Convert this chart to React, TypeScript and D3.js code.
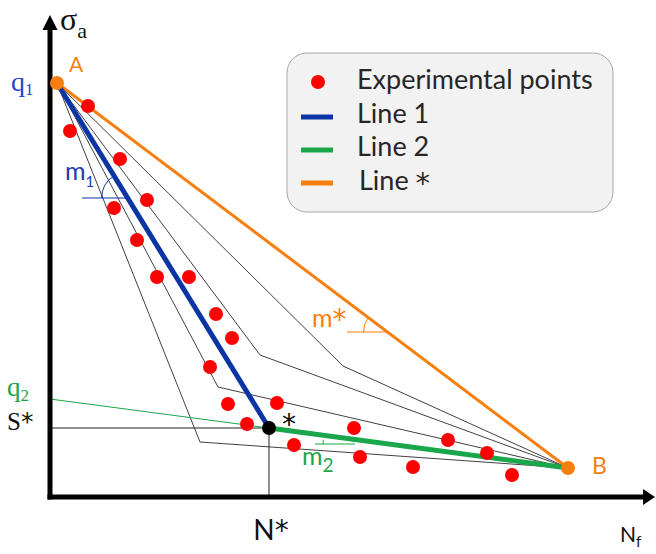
import React from "react";
import * as d3 from "d3";

// schematic S-N diagram (origin at the axes corner)
const expN = [38, 20, 70, 97, 64, 87, 107, 139, 166, 182, 160, 178, 227, 197, 244, 304, 310, 363, 398, 437, 462];
const expS = [391, 366, 338, 297, 289, 257, 220, 220, 183, 159, 130, 93, 94, 73, 52, 69, 40, 30, 57, 44, 22];

const pointA: [number, number] = [7, 414];
const pointB: [number, number] = [518, 29];
const pointStar: [number, number] = [219, 69];
const q2S = 98;

// knee points of the grey bilinear fits
const kneeN = [150, 168, 210, 293];
const kneeS = [55, 110, 142, 131];

// angle marker levels
const m1Level = { s: 299, from: 32 };
const mStarLevel = { s: 165, from: 297 };
const m2Level = { s: 53, from: 265, to: 305 };

const legendLabels = ["Experimental points", "Line 1", "Line 2", "Line "];

const BLUE = "#0b35a5";
const GREEN = "#1aa64b";
const ORANGE = "#f77f10";
const RED = "#ff0000";
const SANS = "Lato, 'Open Sans', sans-serif";
const SERIF = "'Liberation Serif', 'DejaVu Serif', serif";
const STAR_FONT = "'DejaVu Sans', sans-serif";

export default function App() {
  const width = 656;
  const height = 554;

  const x = d3.scaleLinear().domain([0, 600]).range([50, 650]);
  const y = d3.scaleLinear().domain([0, 480]).range([497, 17]);

  const line = d3
    .line<[number, number]>()
    .x((d) => x(d[0]))
    .y((d) => y(d[1]));

  // n on segment p->q at a given s
  const nAt = (p: [number, number], q: [number, number], s: number) =>
    p[0] + ((s - p[1]) * (q[0] - p[0])) / (q[1] - p[1]);

  // arc from the horizontal (left) up to the line toward target
  const angleArc = (cx: number, cy: number, r: number, tx: number, ty: number) => {
    let a = Math.atan2(ty - cy, tx - cx);
    if (a < Math.PI) a += 2 * Math.PI;
    const p = d3.path();
    p.arc(cx, cy, r, Math.PI, a, false);
    return p.toString();
  };

  const m1Center = nAt(pointA, pointStar, m1Level.s);
  const mStarCenter = nAt(pointA, pointB, mStarLevel.s);

  const yAxisY = y(0);
  const xEnd = x(600);

  return (
    <svg
      width={width}
      height={height}
      style={{ position: "absolute", left: 0, top: 0, background: "#fff" }}
    >
      {/* grey bilinear fits */}
      {kneeN.map((n, i) => (
        <path
          key={i}
          d={line([pointA, [n, kneeS[i]], pointB]) || ""}
          fill="none"
          stroke="#404040"
          strokeWidth={1}
        />
      ))}

      {/* N*, S* guides */}
      <path
        d={line([[0, pointStar[1]], pointStar, [pointStar[0], 0]]) || ""}
        fill="none"
        stroke="#222"
        strokeWidth={1}
      />
      <path d={line([[0, q2S], pointStar]) || ""} fill="none" stroke={GREEN} strokeWidth={1} />

      {/* fitted lines */}
      <path d={line([pointA, pointB]) || ""} fill="none" stroke={ORANGE} strokeWidth={3} />
      <path d={line([pointA, pointStar]) || ""} fill="none" stroke={BLUE} strokeWidth={5} />
      <path d={line([pointStar, pointB]) || ""} fill="none" stroke={GREEN} strokeWidth={5} />

      {/* angle markers */}
      <line x1={x(m1Level.from)} x2={x(m1Center)} y1={y(m1Level.s)} y2={y(m1Level.s)} stroke={BLUE} strokeWidth={1} />
      <path
        d={angleArc(x(m1Center), y(m1Level.s), 26, x(pointA[0]), y(pointA[1]))}
        fill="none"
        stroke={BLUE}
        strokeWidth={1}
      />
      <line x1={x(mStarLevel.from)} x2={x(mStarCenter)} y1={y(mStarLevel.s)} y2={y(mStarLevel.s)} stroke={ORANGE} strokeWidth={1} />
      <path
        d={angleArc(x(mStarCenter), y(mStarLevel.s), 24, x(pointA[0]), y(pointA[1]))}
        fill="none"
        stroke={ORANGE}
        strokeWidth={1}
      />
      <line x1={x(m2Level.from)} x2={x(m2Level.to)} y1={y(m2Level.s)} y2={y(m2Level.s)} stroke={GREEN} strokeWidth={1} />
      <path
        d={angleArc(
          x(m2Level.to),
          y(m2Level.s),
          32,
          x(m2Level.to) + x(pointStar[0]) - x(pointB[0]),
          y(m2Level.s) + y(pointStar[1]) - y(pointB[1])
        )}
        fill="none"
        stroke={GREEN}
        strokeWidth={1}
      />

      {/* experimental points */}
      {expN.map((n, i) => (
        <circle key={i} cx={x(n)} cy={y(expS[i])} r={7} fill={RED} />
      ))}

      {/* axes */}
      <line x1={x(0)} x2={x(0)} y1={yAxisY + 2.5} y2={y(467)} stroke="#000" strokeWidth={5} />
      <path d={`M${x(0)},${y(482)}L${x(0) - 7.5},${y(467)}L${x(0) + 7.5},${y(467)}Z`} fill="#000" />
      <line x1={x(0) - 2.5} x2={xEnd - 7} y1={yAxisY} y2={yAxisY} stroke="#000" strokeWidth={5} />
      <path d={`M${xEnd + 5},${yAxisY}L${xEnd - 7},${yAxisY - 8}L${xEnd - 7},${yAxisY + 8}Z`} fill="#000" />

      {/* key points */}
      <circle cx={x(pointA[0])} cy={y(pointA[1])} r={7} fill={ORANGE} />
      <circle cx={x(pointB[0])} cy={y(pointB[1])} r={7} fill={ORANGE} />
      <circle cx={x(pointStar[0])} cy={y(pointStar[1])} r={7} fill="#000" />

      {/* labels */}
      <text x={60} y={30} fontFamily={SERIF} fontSize={32} fill="#111">
        σ<tspan fontSize={22} dy={8}>a</tspan>
      </text>
      <text x={620} y={542} fontFamily={SANS} fontSize={21} fill="#111">
        N<tspan fontSize={15} dy={5}>f</tspan>
      </text>
      <text x={x(pointA[0]) + 12} y={y(pointA[1]) - 11} fontFamily={SANS} fontSize={21} fill={ORANGE}>
        A
      </text>
      <text x={x(pointB[0]) + 24} y={y(pointB[1]) + 6} fontFamily={SANS} fontSize={23} fill={ORANGE}>
        B
      </text>
      <text x={11} y={91} fontFamily={SERIF} fontSize={28} fill="#2a45d0">
        q<tspan fontSize={17} dy={4}>1</tspan>
      </text>
      <text x={7} y={396} fontFamily={SERIF} fontSize={27} fill={GREEN}>
        q<tspan fontSize={17} dy={5}>2</tspan>
      </text>
      <text x={7} y={430} fontFamily={SERIF} fontSize={25} fill="#111">
        S<tspan fontFamily={STAR_FONT} fontSize={25}>*</tspan>
      </text>
      <text x={x(pointStar[0]) + 2} y={540} textAnchor="middle" fontFamily={SANS} fontSize={28} fill="#111">
        N<tspan fontFamily={STAR_FONT} fontSize={28}>*</tspan>
      </text>
      <text x={x(pointStar[0]) + 13} y={y(pointStar[1]) + 6} fontFamily={STAR_FONT} fontSize={28} fill="#000">
        *
      </text>
      <text x={65} y={180} fontFamily={SANS} fontSize={25} fill="#2040a8">
        m<tspan fontSize={15} dy={7}>1</tspan>
      </text>
      <text x={302} y={465} fontFamily={SANS} fontSize={25} fill={GREEN}>
        m<tspan fontSize={19} dy={7}>2</tspan>
      </text>
      <text x={312} y={327} fontFamily={SANS} fontSize={25} fill={ORANGE}>
        m<tspan fontFamily={STAR_FONT} fontSize={28} dy={2}>*</tspan>
      </text>

      {/* legend */}
      <g transform="translate(287,53)">
        <rect width={326} height={159} rx={20} fill="#f2f2f2" stroke="#a6a6a6" strokeWidth={1} />
        <circle cx={31} cy={29} r={7} fill={RED} />
        <line x1={14} x2={46} y1={64} y2={64} stroke={BLUE} strokeWidth={5} />
        <line x1={14} x2={46} y1={97} y2={97} stroke={GREEN} strokeWidth={5} />
        <line x1={14} x2={46} y1={130} y2={130} stroke={ORANGE} strokeWidth={5} />
        {legendLabels.map((t, i) => (
          <text key={t} x={i === 3 ? 72 : 70} y={36 + i * 33.5} fontFamily={SANS} fontSize={27} fill="#262626">
            {t}
            {i === 3 && (
              <tspan fontFamily={STAR_FONT} fontSize={29} dy={3}>
                *
              </tspan>
            )}
          </text>
        ))}
      </g>
    </svg>
  );
}
